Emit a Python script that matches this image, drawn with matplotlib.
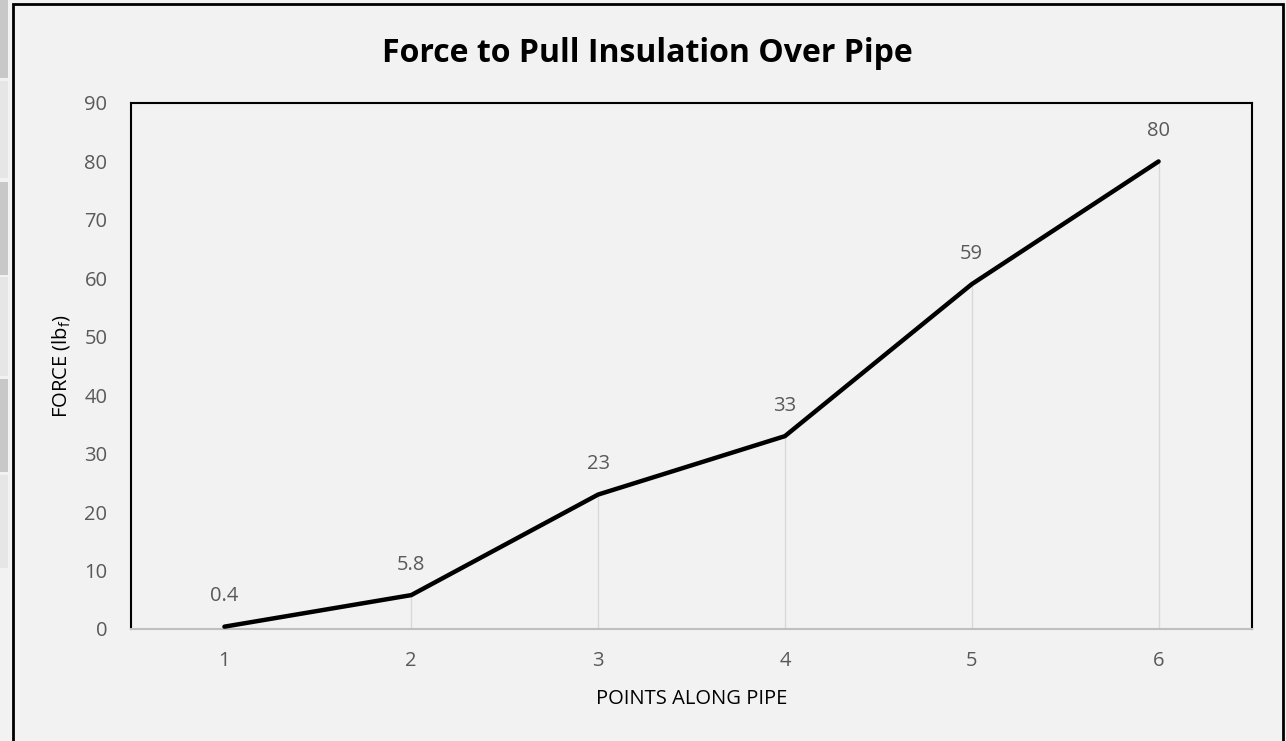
import matplotlib
matplotlib.use("Agg")
import matplotlib.pyplot as plt
from matplotlib.patches import Rectangle

plt.rcParams['font.family'] = ['Open Sans', 'DejaVu Sans']

# data
points = [1, 2, 3, 4, 5, 6]
force = [0.4, 5.8, 23, 33, 59, 80]
force_labels = ["0.4", "5.8", "23", "33", "59", "80"]
y_ticks = [0, 10, 20, 30, 40, 50, 60, 70, 80, 90]

bg = "#f2f2f2"
txt = "#595959"

W, H = 1286, 741
fig = plt.figure(figsize=(W/100, H/100), dpi=100)
fig.patch.set_facecolor(bg)

# spreadsheet row strip at the far left
strip = [(0, 78, "#c8c8c8"), (81, 178, "#e6e6e6"), (182, 275, "#c8c8c8"),
         (277, 376, "#e6e6e6"), (379, 472, "#c8c8c8"), (475, 568, "#e6e6e6")]
for y0, y1, c in strip:
    fig.patches.append(Rectangle((0, 1 - y1/H), 8/W, (y1 - y0)/H,
                                 transform=fig.transFigure, facecolor=c,
                                 edgecolor="none"))
# chart border
fig.patches.append(Rectangle((12.5/W, -0.05), (1283 - 12.5)/W, 1.05 - 4.5/H,
                             transform=fig.transFigure, facecolor="none",
                             edgecolor="black", linewidth=2))

ax = fig.add_axes([131/W, 1 - 629/H, (1252 - 131)/W, (629 - 103)/H])
ax.set_facecolor(bg)

# drop lines
ax.vlines(points, 0, force, color="#d9d9d9", linewidth=1, zorder=1)
ax.plot(points, force, color="black", linewidth=3.2, solid_capstyle="round",
        zorder=3)
for x, y, s in zip(points, force, force_labels):
    ax.annotate(s, (x, y), xytext=(0, 22), textcoords="offset points",
                ha="center", va="center", fontsize=14.5, color=txt)

ax.set_xlim(0.5, 6.5)
ax.set_ylim(0, 90)
ax.set_xticks(points)
ax.set_yticks(y_ticks)
ax.tick_params(length=0, labelsize=14.5, labelcolor=txt)
ax.tick_params(axis="y", pad=17)
ax.tick_params(axis="x", pad=16)

for side in ["left", "top", "right"]:
    ax.spines[side].set_color("black")
    ax.spines[side].set_linewidth(1.5)
ax.spines["bottom"].set_color("#bfbfbf")
ax.spines["bottom"].set_linewidth(1.5)

ax.set_xlabel("POINTS ALONG PIPE", fontsize=14.5, color="black", labelpad=13)
ax.set_ylabel(r"FORCE (lb$_\mathregular{f}$)", fontsize=14.5, color="black")
ax.yaxis.set_label_coords((72 - 131) / (1252 - 131), 0.5)

fig.text(647/W, 1 - 53/H, "Force to Pull Insulation Over Pipe",
         ha="center", va="center", fontsize=23, fontweight="bold")

fig.savefig("out.png", dpi=100, facecolor=bg)
